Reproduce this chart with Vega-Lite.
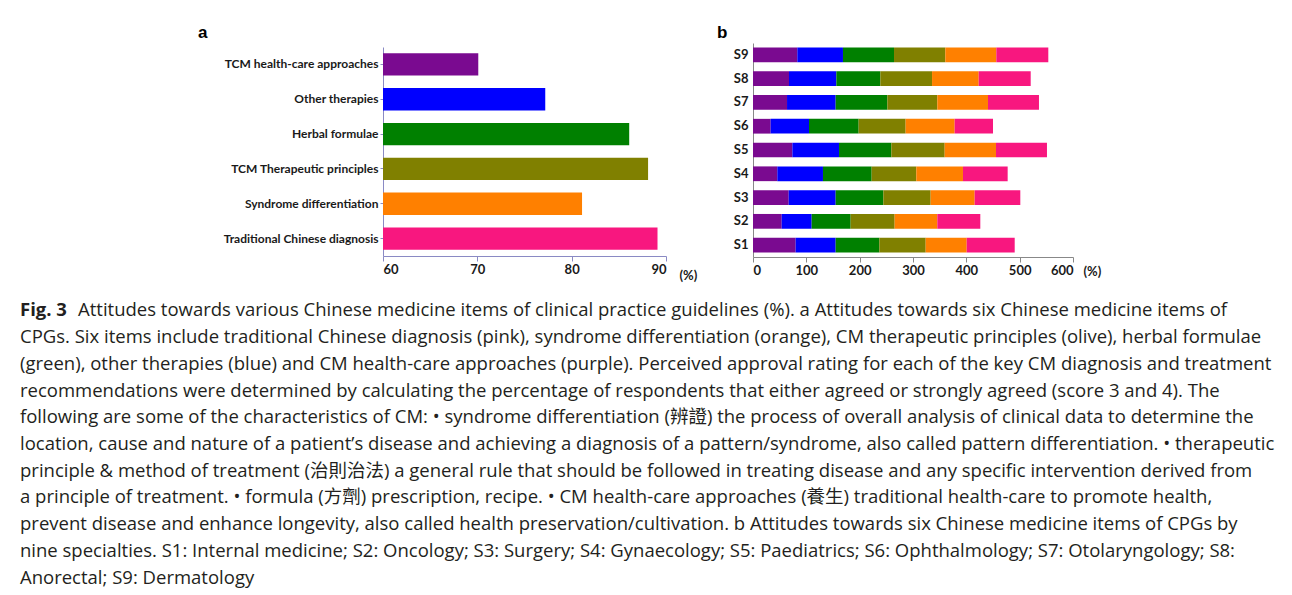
{
  "$schema": "https://vega.github.io/schema/vega-lite/v6.json",
  "background": "white",
  "padding": {"left": 20, "top": 24, "right": 0, "bottom": 0},
  "config": {
    "font": "Lato",
    "view": {"stroke": null},
    "axis": {"grid": false, "labelColor": "#1a1a1a", "labelFontWeight": "bold", "ticks": true},
    "title": {"fontWeight": "bold", "fontSize": 17, "font": "Liberation Sans", "anchor": "start", "frame": "group", "color": "#000"}
  },
  "datasets": {
    "itemsA": [
      {"item": "TCM health-care approaches", "value": 70.1},
      {"item": "Other therapies", "value": 77.2},
      {"item": "Herbal formulae", "value": 86.1},
      {"item": "TCM Therapeutic principles", "value": 88.1},
      {"item": "Syndrome differentiation", "value": 81.1},
      {"item": "Traditional Chinese diagnosis", "value": 89.1}
    ],
    "itemsB": [
      {"spec": "S9", "rank": 1, "item": "TCM health-care approaches", "value": 83.1},
      {"spec": "S9", "rank": 2, "item": "Other therapies", "value": 85.6},
      {"spec": "S9", "rank": 3, "item": "Herbal formulae", "value": 95.7},
      {"spec": "S9", "rank": 4, "item": "TCM Therapeutic principles", "value": 96.2},
      {"spec": "S9", "rank": 5, "item": "Syndrome differentiation", "value": 95.6},
      {"spec": "S9", "rank": 6, "item": "Traditional Chinese diagnosis", "value": 97.5},
      {"spec": "S8", "rank": 1, "item": "TCM health-care approaches", "value": 67.5},
      {"spec": "S8", "rank": 2, "item": "Other therapies", "value": 88.8},
      {"spec": "S8", "rank": 3, "item": "Herbal formulae", "value": 82.5},
      {"spec": "S8", "rank": 4, "item": "TCM Therapeutic principles", "value": 96.9},
      {"spec": "S8", "rank": 5, "item": "Syndrome differentiation", "value": 87.5},
      {"spec": "S8", "rank": 6, "item": "Traditional Chinese diagnosis", "value": 97.5},
      {"spec": "S7", "rank": 1, "item": "TCM health-care approaches", "value": 63.8},
      {"spec": "S7", "rank": 2, "item": "Other therapies", "value": 91.2},
      {"spec": "S7", "rank": 3, "item": "Herbal formulae", "value": 96.9},
      {"spec": "S7", "rank": 4, "item": "TCM Therapeutic principles", "value": 93.7},
      {"spec": "S7", "rank": 5, "item": "Syndrome differentiation", "value": 95.0},
      {"spec": "S7", "rank": 6, "item": "Traditional Chinese diagnosis", "value": 95.6},
      {"spec": "S6", "rank": 1, "item": "TCM health-care approaches", "value": 33.1},
      {"spec": "S6", "rank": 2, "item": "Other therapies", "value": 71.9},
      {"spec": "S6", "rank": 3, "item": "Herbal formulae", "value": 93.1},
      {"spec": "S6", "rank": 4, "item": "TCM Therapeutic principles", "value": 88.1},
      {"spec": "S6", "rank": 5, "item": "Syndrome differentiation", "value": 91.9},
      {"spec": "S6", "rank": 6, "item": "Traditional Chinese diagnosis", "value": 71.9},
      {"spec": "S5", "rank": 1, "item": "TCM health-care approaches", "value": 73.8},
      {"spec": "S5", "rank": 2, "item": "Other therapies", "value": 87.5},
      {"spec": "S5", "rank": 3, "item": "Herbal formulae", "value": 98.1},
      {"spec": "S5", "rank": 4, "item": "TCM Therapeutic principles", "value": 100.0},
      {"spec": "S5", "rank": 5, "item": "Syndrome differentiation", "value": 96.2},
      {"spec": "S5", "rank": 6, "item": "Traditional Chinese diagnosis", "value": 95.6},
      {"spec": "S4", "rank": 1, "item": "TCM health-care approaches", "value": 45.6},
      {"spec": "S4", "rank": 2, "item": "Other therapies", "value": 85.6},
      {"spec": "S4", "rank": 3, "item": "Herbal formulae", "value": 91.3},
      {"spec": "S4", "rank": 4, "item": "TCM Therapeutic principles", "value": 83.7},
      {"spec": "S4", "rank": 5, "item": "Syndrome differentiation", "value": 87.5},
      {"spec": "S4", "rank": 6, "item": "Traditional Chinese diagnosis", "value": 83.8},
      {"spec": "S3", "rank": 1, "item": "TCM health-care approaches", "value": 66.9},
      {"spec": "S3", "rank": 2, "item": "Other therapies", "value": 88.1},
      {"spec": "S3", "rank": 3, "item": "Herbal formulae", "value": 89.4},
      {"spec": "S3", "rank": 4, "item": "TCM Therapeutic principles", "value": 88.7},
      {"spec": "S3", "rank": 5, "item": "Syndrome differentiation", "value": 82.5},
      {"spec": "S3", "rank": 6, "item": "Traditional Chinese diagnosis", "value": 85.6},
      {"spec": "S2", "rank": 1, "item": "TCM health-care approaches", "value": 53.8},
      {"spec": "S2", "rank": 2, "item": "Other therapies", "value": 56.2},
      {"spec": "S2", "rank": 3, "item": "Herbal formulae", "value": 73.1},
      {"spec": "S2", "rank": 4, "item": "TCM Therapeutic principles", "value": 82.5},
      {"spec": "S2", "rank": 5, "item": "Syndrome differentiation", "value": 80.0},
      {"spec": "S2", "rank": 6, "item": "Traditional Chinese diagnosis", "value": 80.6},
      {"spec": "S1", "rank": 1, "item": "TCM health-care approaches", "value": 80.0},
      {"spec": "S1", "rank": 2, "item": "Other therapies", "value": 75.0},
      {"spec": "S1", "rank": 3, "item": "Herbal formulae", "value": 81.9},
      {"spec": "S1", "rank": 4, "item": "TCM Therapeutic principles", "value": 86.9},
      {"spec": "S1", "rank": 5, "item": "Syndrome differentiation", "value": 76.9},
      {"spec": "S1", "rank": 6, "item": "Traditional Chinese diagnosis", "value": 90.0}
    ],
    "caption": [
      {"line": 1, "part": "lead", "text": "Fig. 3"},
      {"line": 1, "part": "rest", "text": "Attitudes towards various Chinese medicine items of clinical practice guidelines (%). a Attitudes towards six Chinese medicine items of"},
      {"line": 2, "part": "body", "text": "CPGs. Six items include traditional Chinese diagnosis (pink), syndrome differentiation (orange), CM therapeutic principles (olive), herbal formulae"},
      {"line": 3, "part": "body", "text": "(green), other therapies (blue) and CM health-care approaches (purple). Perceived approval rating for each of the key CM diagnosis and treatment"},
      {"line": 4, "part": "body", "text": "recommendations were determined by calculating the percentage of respondents that either agreed or strongly agreed (score 3 and 4). The"},
      {"line": 5, "part": "body", "text": "following are some of the characteristics of CM: • syndrome differentiation (辨證) the process of overall analysis of clinical data to determine the"},
      {"line": 6, "part": "body", "text": "location, cause and nature of a patient’s disease and achieving a diagnosis of a pattern/syndrome, also called pattern differentiation. • therapeutic"},
      {"line": 7, "part": "body", "text": "principle & method of treatment (治則治法) a general rule that should be followed in treating disease and any specific intervention derived from"},
      {"line": 8, "part": "body", "text": "a principle of treatment. • formula (方劑) prescription, recipe. • CM health-care approaches (養生) traditional health-care to promote health,"},
      {"line": 9, "part": "body", "text": "prevent disease and enhance longevity, also called health preservation/cultivation. b Attitudes towards six Chinese medicine items of CPGs by"},
      {"line": 10, "part": "body", "text": "nine specialties. S1: Internal medicine; S2: Oncology; S3: Surgery; S4: Gynaecology; S5: Paediatrics; S6: Ophthalmology; S7: Otolaryngology; S8:"},
      {"line": 11, "part": "body", "text": "Anorectal; S9: Dermatology"}
    ]
  },
  "align": "none",
  "vconcat": [
    {
      "align": "none",
      "hconcat": [
        {
          "data": {"name": "itemsA"},
          "title": {"text": "a", "dx": -185, "offset": 5},
          "width": 283,
          "height": 209,
          "mark": {"type": "bar"},
          "encoding": {
            "y": {
              "field": "item", "type": "nominal", "sort": null,
              "scale": {"paddingInner": 0.36, "paddingOuter": 0.18},
              "axis": {"title": null, "labelFontSize": 12, "labelPadding": 2, "tickSize": 3, "minExtent": 363, "maxExtent": 363, "labelLimit": 220, "domainColor": "#8a8ac4", "tickColor": "#8a8ac4"}
            },
            "x": {
              "field": "value", "type": "quantitative",
              "scale": {"domain": [60, 90], "nice": false, "zero": false},
              "axis": {"values": [60, 70, 80, 90], "title": "(%)", "titleFontSize": 13, "titleFontWeight": "bold", "titleColor": "#1a1a1a", "titleAlign": "left", "titleBaseline": "middle", "titleX": 296, "titleY": 19, "labelFontSize": 13, "tickSize": 5, "domainColor": "#8a8ac4", "tickColor": "#8a8ac4"}
            },
            "x2": {"datum": 60},
            "color": {
              "field": "item", "type": "nominal", "legend": null,
              "scale": {
                "domain": ["TCM health-care approaches", "Other therapies", "Herbal formulae", "TCM Therapeutic principles", "Syndrome differentiation", "Traditional Chinese diagnosis"],
                "range": ["#7a0a90", "#0000ff", "#008000", "#808000", "#ff8000", "#f8177f"]
              }
            }
          }
        },
        {
          "data": {"name": "itemsB"},
          "title": {"text": "b", "dx": -36, "offset": 5},
          "width": 320,
          "height": 210,
          "mark": {"type": "bar"},
          "encoding": {
            "y": {
              "field": "spec", "type": "nominal", "sort": ["S9", "S8", "S7", "S6", "S5", "S4", "S3", "S2", "S1"],
              "scale": {"paddingInner": 0.38, "paddingOuter": 0.19, "range": [-4, 210]},
              "axis": {"title": null, "labelFontSize": 13, "labelPadding": 5, "tickSize": 0, "minExtent": 30, "maxExtent": 30, "domainColor": "#888", "tickColor": "#888"}
            },
            "x": {
              "field": "value", "type": "quantitative", "stack": "zero",
              "scale": {"domain": [0, 600], "nice": false},
              "axis": {"values": [0, 100, 200, 300, 400, 500, 600], "title": "(%)", "titleFontSize": 13, "titleFontWeight": "bold", "titleColor": "#1a1a1a", "titleAlign": "left", "titleBaseline": "middle", "titleX": 330, "titleY": 14, "labelFontSize": 13, "tickSize": 5, "domainColor": "#888", "tickColor": "#888"}
            },
            "order": {"field": "rank", "type": "quantitative", "sort": "ascending"},
            "color": {
              "field": "item", "type": "nominal", "legend": null,
              "scale": {
                "domain": ["TCM health-care approaches", "Other therapies", "Herbal formulae", "TCM Therapeutic principles", "Syndrome differentiation", "Traditional Chinese diagnosis"],
                "range": ["#7a0a90", "#0000ff", "#008000", "#808000", "#ff8000", "#f8177f"]
              }
            }
          }
        }
      ],
      "spacing": 20
    },
    {
      "data": {"name": "caption"},
      "width": 1100,
      "height": 294,
      "encoding": {
        "y": {"field": "line", "type": "ordinal", "axis": null, "scale": {"type": "band", "paddingInner": 0, "paddingOuter": 0}},
        "text": {"field": "text"}
      },
      "layer": [
        {
          "transform": [{"filter": "datum.part == 'body'"}],
          "mark": {"type": "text", "align": "left", "baseline": "middle", "font": "Open Sans, Noto Sans CJK TC", "fontSize": 18.5, "color": "#231f20", "x": 0, "dx": -363}
        },
        {
          "transform": [{"filter": "datum.part == 'lead'"}],
          "mark": {"type": "text", "align": "left", "baseline": "middle", "font": "Open Sans, Noto Sans CJK TC", "fontWeight": "bold", "fontSize": 18.5, "color": "#231f20", "x": 0, "dx": -363}
        },
        {
          "transform": [{"filter": "datum.part == 'rest'"}],
          "mark": {"type": "text", "align": "left", "baseline": "middle", "font": "Open Sans, Noto Sans CJK TC", "fontSize": 18.5, "color": "#231f20", "x": 0, "dx": -305}
        }
      ]
    }
  ],
  "spacing": 15
}
